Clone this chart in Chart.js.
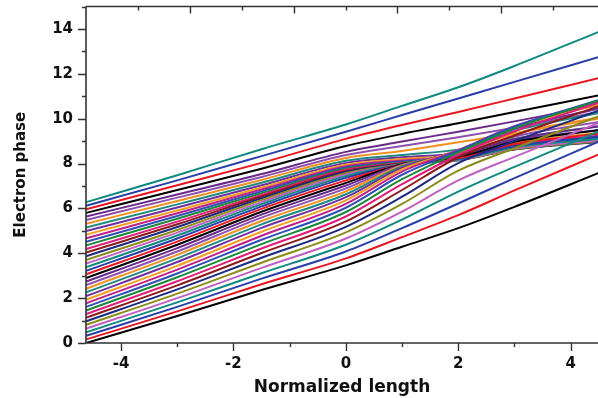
<!DOCTYPE html>
<html><head><meta charset="utf-8">
<script src="https://cdn.jsdelivr.net/npm/chart.js@4"></script>
<style>html,body{margin:0;padding:0;background:#fff;overflow:hidden}#w{position:relative;width:598px;height:398px}</style>
</head><body><div id="w"><canvas id="c"></canvas></div>
<script>
// x positions (normalized length) at which the phases were read
const xPoints = [-4.62, -3, -1.5, 0, 1, 2, 3, 4.49];
// phase of each of the 40 electrons (bottom to top at the start) at each x position
const phaseXm462 = [0.00,0.16,0.32,0.48,0.64,0.81,0.97,1.13,1.29,1.45,1.61,1.77,1.93,2.09,2.26,2.42,2.58,2.74,2.90,3.06,3.22,3.38,3.54,3.70,3.87,4.03,4.19,4.35,4.51,4.67,4.83,4.99,5.15,5.32,5.48,5.64,5.80,5.96,6.12,6.28];
const phaseXm3 = [1.20,1.41,1.61,1.81,2.00,2.20,2.39,2.57,2.75,2.93,3.10,3.27,3.44,3.61,3.77,3.93,4.08,4.23,4.38,4.52,4.66,4.79,4.92,5.04,5.17,5.29,5.41,5.54,5.66,5.78,5.91,6.04,6.18,6.33,6.48,6.62,6.82,7.03,7.25,7.48];
const phaseXm15 = [2.36,2.62,2.87,3.11,3.35,3.58,3.80,4.01,4.21,4.41,4.60,4.78,4.96,5.13,5.29,5.44,5.59,5.72,5.85,5.98,6.09,6.19,6.28,6.37,6.45,6.53,6.60,6.68,6.76,6.84,6.93,7.03,7.14,7.27,7.40,7.53,7.77,8.03,8.33,8.64];
const phaseX0 = [3.46,3.77,4.08,4.38,4.66,4.93,5.18,5.42,5.64,5.84,6.03,6.20,6.36,6.50,6.63,6.76,6.89,7.02,7.14,7.25,7.36,7.44,7.51,7.57,7.62,7.67,7.72,7.77,7.82,7.88,7.95,8.03,8.12,8.25,8.38,8.52,8.78,9.10,9.42,9.74];
const phaseX1 = [4.29,4.72,5.12,5.50,5.86,6.20,6.52,6.82,7.08,7.30,7.50,7.64,7.74,7.82,7.87,7.91,7.93,7.95,7.96,7.96,7.96,7.96,7.96,7.97,7.98,8.00,8.02,8.05,8.09,8.14,8.20,8.28,8.38,8.56,8.78,8.98,9.32,9.72,10.16,10.57];
const phaseX2 = [5.12,5.70,6.22,6.75,7.25,7.68,8.02,8.28,8.38,8.50,8.57,8.60,8.60,8.58,8.54,8.48,8.42,8.36,8.30,8.25,8.21,8.18,8.16,8.15,8.15,8.16,8.18,8.21,8.25,8.30,8.37,8.46,8.62,8.95,9.17,9.42,9.80,10.30,10.90,11.40];
const phaseX3 = [6.07,6.80,7.35,7.85,8.30,8.68,9.00,9.25,9.44,9.57,9.65,9.66,9.62,9.55,9.45,9.33,9.20,9.08,8.97,8.87,8.78,8.72,8.67,8.64,8.63,8.64,8.67,8.71,8.77,8.84,8.93,9.03,9.10,9.35,9.60,9.88,10.30,10.90,11.64,12.35];
const phaseX449 = [7.57,8.40,8.97,9.42,9.80,10.10,10.35,10.55,10.70,10.80,10.82,10.75,10.62,10.45,10.25,10.05,9.85,9.65,9.48,9.33,9.20,9.10,9.03,8.98,8.96,8.97,9.00,9.06,9.14,9.24,9.36,9.50,9.66,10.00,10.30,10.60,11.03,11.80,12.74,13.86];
const phaseColumns = [phaseXm462, phaseXm3, phaseXm15, phaseX0, phaseX1, phaseX2, phaseX3, phaseX449];
const colorCycle = ['#000000','#e8171f','#2a3ea8','#0f8a80','#c060c0','#8c8c1a','#1c2a80','#8b1a1a','#e01e78','#1a8a3a','#3050b8','#c0208a','#f0a020','#7030a0','#208a80','#f09020','#9050b0','#6a2a8a'];
const xTicks = [-4,-3,-2,-1,0,1,2,3,4];
const yTicks = [0,1,2,3,4,5,6,7,8,9,10,11,12,13,14,15];
const topTicks = [1,2,3,4,5,6,7,8,9];
const xRange = [-4.623, 4.486];
const yRange = [0, 15];
const topRange = [0, 9.865];

const datasets = phaseXm462.map((_, i) => ({
  data: phaseColumns.map((col, j) => ({x: xPoints[j], y: col[i]})),
  borderColor: colorCycle[i % colorCycle.length],
  borderWidth: 2,
  pointRadius: 0,
  cubicInterpolationMode: 'monotone',
  fill: false
}));

const AX = '#333333';
const axisPlugin = {
  id: 'axes',
  afterDraw(chart) {
    const {ctx, chartArea: a, scales} = chart;
    ctx.save();
    ctx.strokeStyle = AX; ctx.lineWidth = 1.6; ctx.lineCap = 'butt';
    ctx.beginPath();
    ctx.moveTo(a.left, a.top); ctx.lineTo(a.left, a.bottom);
    ctx.moveTo(a.left - 1, a.bottom); ctx.lineTo(a.right, a.bottom);
    ctx.moveTo(a.left, a.top); ctx.lineTo(a.right, a.top);
    ctx.stroke();
    ctx.lineWidth = 1.4;
    ctx.beginPath();
    xTicks.forEach(v => { const p = Math.round(scales.x.getPixelForValue(v)) + 0.5; const L = v % 2 === 0 ? 8 : 4; ctx.moveTo(p, a.bottom); ctx.lineTo(p, a.bottom + L); });
    yTicks.forEach(v => { const p = Math.round(scales.y.getPixelForValue(v)) + 0.5; const L = v % 2 === 0 ? 8 : 4; ctx.moveTo(a.left, p); ctx.lineTo(a.left - L, p); });
    topTicks.forEach(v => { const p = Math.round(scales.x2.getPixelForValue(v)) + 0.5; const L = v % 2 === 0 ? 7 : 4; ctx.moveTo(p, a.top); ctx.lineTo(p, a.top + L); });
    ctx.stroke();
    ctx.restore();
  }
};

new Chart(document.getElementById('c'), {
  type: 'line',
  data: {datasets},
  options: {
    responsive: true, maintainAspectRatio: false, animation: false,
    layout: {padding: {top: 6.5, right: 0, left: 0, bottom: 0}},
    plugins: {legend: {display: false}, tooltip: {enabled: false}},
    scales: {
      x: {
        type: 'linear', min: xRange[0], max: xRange[1],
        afterBuildTicks: s => { s.ticks = xTicks.map(v => ({value: v})); },
        afterFit: s => { s.height = 55; s.paddingLeft = 0; s.paddingRight = 0; },
        grid: {display: false, drawTicks: false},
        border: {display: false},
        ticks: {padding: 12, color: '#111', font: {family: 'DejaVu Sans', weight: 'bold', size: 15},
          callback: v => (v % 2 === 0 ? String(v) : '')},
        title: {display: true, text: 'Normalized length', color: '#111', padding: {top: 0, bottom: 0},
          font: {family: 'DejaVu Sans', weight: 'bold', size: 17}}
      },
      x2: {
        type: 'linear', position: 'top', min: topRange[0], max: topRange[1],
        afterFit: s => { s.height = 0; s.paddingLeft = 0; s.paddingRight = 0; },
        grid: {display: false, drawTicks: false}, border: {display: false},
        ticks: {display: false}
      },
      y: {
        type: 'linear', min: yRange[0], max: yRange[1],
        afterBuildTicks: s => { s.ticks = yTicks.map(v => ({value: v})); },
        afterFit: s => { s.width = 86; s.paddingTop = 0; s.paddingBottom = 0; },
        grid: {display: false, drawTicks: false},
        border: {display: false},
        ticks: {padding: 13, color: '#111', font: {family: 'DejaVu Sans', weight: 'bold', size: 15},
          callback: v => (v % 2 === 0 ? String(v) : '')},
        title: {display: true, text: 'Electron phase', color: '#111', padding: {top: 12, bottom: 0},
          font: {family: 'DejaVu Sans', weight: 'bold', size: 15}}
      }
    }
  },
  plugins: [axisPlugin]
});
</script></body></html>
